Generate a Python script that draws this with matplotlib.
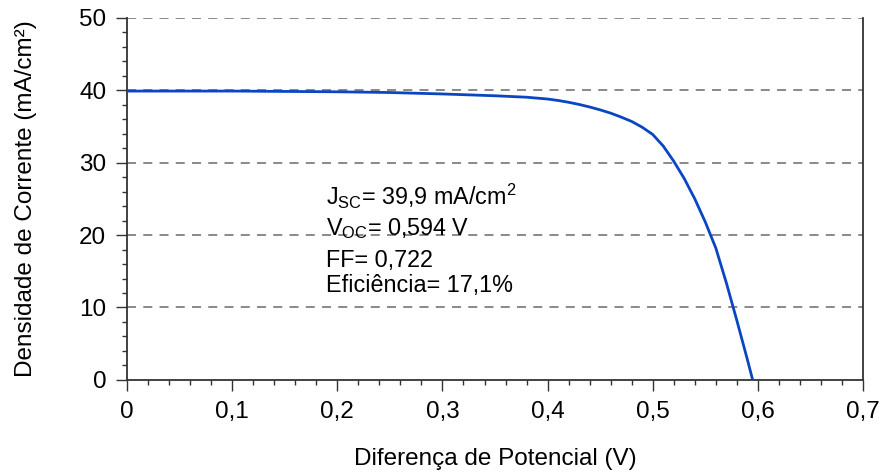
import matplotlib
matplotlib.use('Agg')
import matplotlib.pyplot as plt
from matplotlib.ticker import MultipleLocator, FuncFormatter

plt.rcParams['font.family'] = ['Liberation Sans', 'DejaVu Sans']
plt.rcParams['mathtext.fontset'] = 'custom'
plt.rcParams['mathtext.rm'] = 'Liberation Sans'
plt.rcParams['mathtext.it'] = 'Liberation Sans:italic'

# J-V curve
voltage = [0, 0.05, 0.1, 0.15, 0.2, 0.25, 0.3, 0.35, 0.38, 0.4, 0.41, 0.42, 0.43,
           0.44, 0.45, 0.46, 0.47, 0.48, 0.49, 0.5, 0.51, 0.52, 0.53, 0.54, 0.55,
           0.56, 0.57, 0.58, 0.59, 0.595]
current = [39.9, 39.9, 39.9, 39.85, 39.8, 39.7, 39.5, 39.25, 39.05, 38.8, 38.6, 38.35, 38.05,
           37.7, 37.3, 36.85, 36.3, 35.7, 34.9, 33.9, 32.3, 30.2, 27.8, 25.0, 21.8,
           18.2, 13.4, 8.2, 2.8, 0]

params = [r'J$_{\mathrm{SC}}$= 39,9 mA/cm$^{2}$',
          r'V$_{\mathrm{OC}}$= 0,594 V',
          'FF= 0,722',
          'Eficiência= 17,1%']

fig = plt.figure(figsize=(8.82, 4.73), dpi=100)
ax = fig.add_axes([0.144, 0.197, 0.8345, 0.765])

# dashed grid
for yv in [10, 20, 30, 40, 50]:
    ax.axhline(yv, color='#808080', linestyle=(0, (5, 4)), linewidth=1.3, zorder=1)

ax.plot(voltage, current, color='#0a46c2', linewidth=2.0, zorder=3)

ax.set_xlim(0, 0.7)
ax.set_ylim(0, 50)
ax.xaxis.set_major_locator(MultipleLocator(0.1))
ax.xaxis.set_minor_locator(MultipleLocator(0.02))
ax.yaxis.set_major_locator(MultipleLocator(10))
ax.yaxis.set_minor_locator(MultipleLocator(2))
ax.xaxis.set_major_formatter(FuncFormatter(lambda v, p: ('%g' % round(v, 2)).replace('.', ',')))

ax.spines['top'].set_visible(False)
for s in ['left', 'bottom', 'right']:
    ax.spines[s].set_color('#333333')
    ax.spines[s].set_linewidth(1.3)

ax.tick_params(which='major', direction='out', length=8, width=1.0, color='#333333',
               labelsize=17.5, pad=7)
ax.tick_params(which='minor', direction='out', length=3.6, width=1.0, color='#333333')
ax.tick_params(axis='y', right=False)

ax.set_xlabel('Diferença de Potencial (V)', fontsize=17.5, labelpad=18)
ax.set_ylabel('Densidade de Corrente (mA/cm²)', fontsize=17.5, labelpad=30)

# cell parameters
ys = [0.483, 0.40, 0.312, 0.243]
for t, y in zip(params, ys):
    ax.text(0.271, y, t, transform=ax.transAxes, fontsize=16.8, ha='left',
            va='baseline', zorder=4)

plt.savefig('out.png', dpi=100)
plt.close()
